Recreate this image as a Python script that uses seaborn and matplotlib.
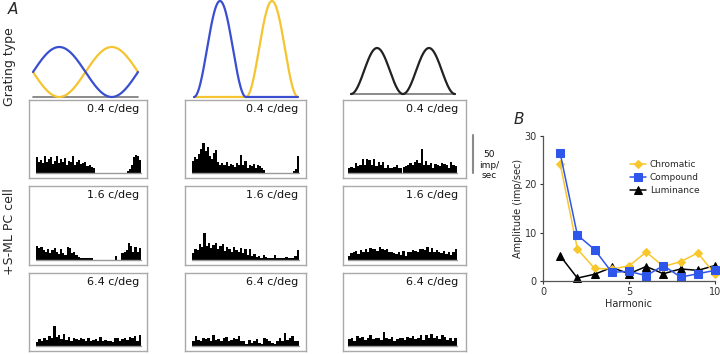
import matplotlib.pyplot as plt
import numpy as np
import pandas as pd
import seaborn as sns

sns.set_style("white")
plt.rcParams['font.family'] = ['DejaVu Sans']

# ---- data ----
# PSTH bins (imp/sec), rows = spatial frequency, columns = grating type
sf_labels = ["0.4 c/deg", "1.6 c/deg", "6.4 c/deg"]
grating_types = ["Chromatic", "Compound", "Luminance"]

psth_chrom_04 = [21, 15, 17, 13, 22, 14, 19, 21, 12, 16, 22, 13, 18, 15, 20, 11, 16, 14, 22, 10,
                 15, 17, 12, 13, 15, 9, 10, 8, 6, 0, 0, 0, 0, 0, 0, 0, 0, 0, 0, 0,
                 0, 0, 0, 0, 0, 3, 5, 11, 21, 24, 22, 17]
psth_comp_04 = [16, 21, 18, 25, 31, 40, 29, 34, 23, 19, 26, 30, 15, 11, 13, 10, 14, 9, 12, 11,
                8, 13, 10, 24, 11, 16, 7, 10, 9, 12, 6, 10, 9, 7, 4, 0, 0, 0, 0, 0,
                0, 0, 0, 0, 0, 0, 0, 0, 3, 5, 22]
psth_lum_04 = [6, 8, 7, 13, 9, 11, 18, 10, 19, 17, 11, 18, 9, 15, 10, 14, 7, 11, 6, 7,
               8, 10, 6, 7, 8, 9, 11, 13, 10, 15, 17, 13, 31, 11, 16, 10, 13, 7, 12, 10,
               9, 13, 12, 11, 6, 14, 11, 9]
psth_chrom_16 = [19, 16, 17, 13, 11, 15, 9, 13, 16, 11, 8, 14, 9, 7, 17, 16, 9, 11, 7, 4,
                 2, 2, 3, 2, 2, 3, 0, 0, 0, 0, 0, 0, 0, 0, 0, 0, 5, 0, 0, 9,
                 11, 13, 23, 18, 11, 17, 10, 16]
psth_comp_16 = [9, 15, 13, 21, 17, 36, 19, 23, 16, 20, 22, 15, 18, 21, 12, 17, 15, 11, 17, 13,
                10, 16, 9, 14, 7, 15, 5, 8, 4, 5, 3, 7, 4, 3, 2, 2, 6, 2, 2, 2,
                2, 4, 2, 2, 3, 5, 13]
psth_lum_16 = [5, 9, 10, 12, 8, 13, 10, 15, 11, 16, 14, 15, 12, 17, 14, 13, 14, 11, 10, 9,
               8, 10, 7, 12, 5, 10, 11, 13, 12, 11, 14, 15, 13, 17, 11, 16, 10, 13, 11, 9,
               12, 8, 10, 6, 11, 14]
psth_chrom_64 = [5, 9, 7, 11, 8, 13, 10, 26, 12, 14, 9, 16, 8, 12, 7, 10, 9, 8, 11, 9,
                 7, 10, 6, 8, 9, 7, 12, 6, 8, 7, 6, 5, 11, 10, 6, 9, 11, 8, 12, 10,
                 13, 7, 14]
psth_comp_64 = [6, 13, 8, 6, 10, 9, 11, 7, 14, 8, 9, 6, 10, 12, 7, 8, 11, 9, 13, 7,
                6, 3, 8, 4, 7, 9, 4, 3, 10, 9, 6, 4, 3, 7, 11, 6, 17, 8, 10, 13,
                7, 6]
psth_lum_64 = [9, 11, 7, 13, 10, 12, 8, 11, 14, 9, 10, 11, 8, 18, 10, 9, 12, 7, 9, 11,
               10, 8, 12, 11, 13, 9, 10, 14, 8, 15, 11, 16, 10, 13, 9, 14, 12, 8, 11, 7,
               10]

psth = [[psth_chrom_04, psth_comp_04, psth_lum_04],
        [psth_chrom_16, psth_comp_16, psth_lum_16],
        [psth_chrom_64, psth_comp_64, psth_lum_64]]

# panel B: Fourier amplitude per harmonic
harmonic = [1, 2, 3, 4, 5, 6, 7, 8, 9, 10]
amp_chromatic = [24.2, 6.6, 2.6, 2.5, 3.1, 6.0, 3.0, 4.0, 5.8, 1.4]
amp_compound = [26.4, 9.5, 6.5, 1.8, 2.0, 1.1, 3.2, 0.8, 1.5, 2.2]
amp_luminance = [5.2, 0.6, 1.4, 2.8, 1.5, 3.0, 1.5, 2.5, 2.2, 3.2]

# ---- style ----
BLUE = "#3a4fd0"
YELLOW = "#f5c431"
B_YELLOW = "#f7c72c"
B_BLUE = "#2f56ea"
BOX = "#a9a9a9"

W, H = 720, 354
fig = plt.figure(figsize=(W / 100, H / 100), dpi=100)


def px_axes(x0, y0, x1, y1):
    return fig.add_axes([x0 / W, 1 - y1 / H, (x1 - x0) / W, (y1 - y0) / H])


# ---- grating profiles ----
t = np.linspace(0, 1, 200)

ax = px_axes(33, 47, 138, 97)
sns.lineplot(x=[0, 1], y=[-1, -1], color="#777777", lw=1.2, ax=ax)
sns.lineplot(x=t, y=-np.sin(2 * np.pi * t), color=YELLOW, lw=1.6, ax=ax)
sns.lineplot(x=t, y=np.sin(2 * np.pi * t), color=BLUE, lw=1.6, ax=ax)
ax.set_xlim(0, 1)
ax.set_ylim(-1, 1)

bump = (1 - np.cos(4 * np.pi * t)) / 2
ax = px_axes(194, 1, 298, 97)
sns.lineplot(x=[0, 1], y=[0, 0], color="#777777", lw=1.2, ax=ax)
sns.lineplot(x=t, y=np.where(t >= 0.5, bump, 0), color=YELLOW, lw=1.6, ax=ax)
sns.lineplot(x=t, y=np.where(t <= 0.5, bump, 0), color=BLUE, lw=1.6, ax=ax)
ax.set_xlim(0, 1)
ax.set_ylim(0, 1)

ax = px_axes(351, 48, 455, 94)
sns.lineplot(x=[0, 1], y=[0, 0], color="#777777", lw=1.2, ax=ax)
sns.lineplot(x=t, y=bump, color="#222222", lw=1.6, ax=ax)
ax.set_xlim(0, 1)
ax.set_ylim(0, 1)

for a in fig.axes:
    a.axis("off")
    for ln in a.lines:
        ln.set_clip_on(False)

# ---- PSTH panels ----
col_box = [(29, 147), (185, 306), (343, 466)]
col_hist = [(36, 141), (192, 299), (348, 457)]
row_box = [(100, 178), (186, 265), (273, 351)]
PX_PER_UNIT = 38 / 50  # scale bar: 50 imp/sec = 38 px
BASE_PX = 5

hist_axes = {}
for r, (y0, y1) in enumerate(row_box):
    for c, (x0, x1) in enumerate(col_box):
        ax = px_axes(x0, y0, x1, y1)
        vals = psth[r][c]
        n = len(vals)
        bw = (col_hist[c][1] - col_hist[c][0]) / n
        sns.barplot(x=np.arange(n), y=vals, native_scale=True, width=1,
                    color="black", linewidth=0, errorbar=None, ax=ax)
        ax.plot([-0.5, n - 0.5], [0, 0], color="#999999", lw=1.0)
        left = -0.5 - (col_hist[c][0] - x0) / bw
        right = n - 0.5 + (x1 - col_hist[c][1]) / bw
        ax.set_xlim(left, right)
        ymin = -BASE_PX / PX_PER_UNIT
        ax.set_ylim(ymin, ymin + (y1 - y0) / PX_PER_UNIT)
        ax.set_xticks([])
        ax.set_yticks([])
        ax.set_xlabel("")
        ax.set_ylabel("")
        for s in ax.spines.values():
            s.set_visible(True)
            s.set_color(BOX)
            s.set_linewidth(1.0)
        ax.text(1 - 8 / (x1 - x0), 1 - 4 / (y1 - y0), sf_labels[r],
                transform=ax.transAxes, ha="right", va="top", fontsize=8,
                color="#111111")
        hist_axes[(r, c)] = ax

# scale bar on the first-row luminance panel
ax = hist_axes[(0, 2)]
x0, x1 = col_box[2]
xb = (473 - x0) / (x1 - x0)
ax.plot([xb, xb], [0, 50], color="#8a8a8a", lw=1.5, clip_on=False,
        transform=ax.get_yaxis_transform())
fig.text(489 / W, 1 - 165 / H, "50\nimp/\nsec", ha="center", va="center",
         fontsize=6.5, linespacing=1.25, color="#111111")

# ---- side labels ----
fig.text(8 / W, 1 - 10 / H, "A", fontsize=11, style="italic", ha="left", va="center")
fig.text(10 / W, 1 - 67 / H, "Grating type", rotation=90, fontsize=9,
         ha="center", va="center")
fig.text(10 / W, 1 - 232 / H, "+S-ML PC cell", rotation=90, fontsize=9,
         ha="center", va="center")

# ---- panel B ----
axB = px_axes(543, 136, 715, 281)
fig.text(514 / W, 1 - 120 / H, "B", fontsize=11, style="italic", ha="left", va="center")

df = pd.DataFrame({
    "Harmonic": harmonic * 3,
    "Amplitude": amp_chromatic + amp_compound + amp_luminance,
    "Grating": ["Chromatic"] * 10 + ["Compound"] * 10 + ["Luminance"] * 10,
})
styles = {
    "Chromatic": dict(color=B_YELLOW, marker="D", markersize=4.5),
    "Compound": dict(color=B_BLUE, marker="s", markersize=6),
    "Luminance": dict(color="black", marker="^", markersize=5.5),
}
for name in ["Luminance", "Chromatic", "Compound"]:
    sub = df[df["Grating"] == name]
    st = styles[name]
    sns.lineplot(data=sub, x="Harmonic", y="Amplitude", color=st["color"],
                 marker=st["marker"], markersize=st["markersize"],
                 markeredgecolor=st["color"], lw=1.1, label=name,
                 clip_on=False, ax=axB)

axB.set_xlim(0, 10)
axB.set_ylim(0, 30)
axB.set_xticks([0, 5, 10])
axB.set_yticks([0, 10, 20, 30])
axB.set_xlabel("Harmonic", fontsize=7, labelpad=1)
axB.set_ylabel("Amplitude (imp/sec)", fontsize=7, labelpad=1)
axB.tick_params(labelsize=7, length=2.5, width=0.8, pad=2, colors="#333333",
                left=True, bottom=True)
sns.despine(ax=axB)
for s in ["left", "bottom"]:
    axB.spines[s].set_color("#555555")
    axB.spines[s].set_linewidth(0.9)

handles, labels = axB.get_legend_handles_labels()
order = [labels.index(n) for n in grating_types]
axB.legend([handles[i] for i in order], grating_types, loc="upper left",
           bbox_to_anchor=(630 / W, 1 - 160 / H), bbox_transform=fig.transFigure,
           frameon=False, fontsize=6.5, handlelength=1.8, handletextpad=0.4,
           labelspacing=0.45, borderpad=0, borderaxespad=0)

fig.savefig("out.png", dpi=100)
